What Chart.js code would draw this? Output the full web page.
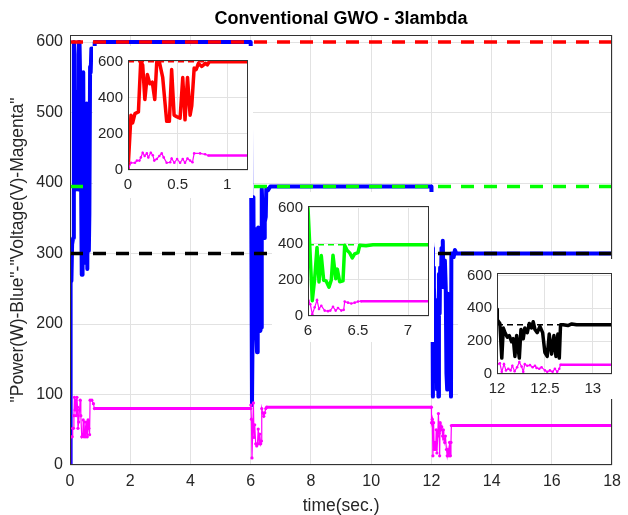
<!DOCTYPE html>
<html>
<head>
<meta charset="utf-8">
<script src="https://cdn.jsdelivr.net/npm/chart.js@4.4.0/dist/chart.umd.min.js"></script>
<style>
  body { margin: 0; background: #fff; }
  #wrap { position: relative; width: 628px; height: 515px; }
  #wrap canvas { position: absolute; }
  .inset { background: #fff; }
</style>
</head>
<body>
<div id="wrap">
  <canvas id="main" width="628" height="515" style="left:0;top:0"></canvas>
  <canvas id="in1" class="inset" width="160" height="152" style="left:93px;top:46px"></canvas>
  <canvas id="in2" class="inset" width="162" height="150" style="left:272px;top:192px"></canvas>
  <canvas id="in3" class="inset" width="160" height="140" style="left:458px;top:259px"></canvas>
</div>
<script>
// power (W) samples, three load steps
const powerTime = [
  0, 0.01, 0.03, 0.047, 0.07, 0.105, 0.128, 0.148, 0.17, 0.195,
  0.22, 0.245, 0.27, 0.29, 0.316, 0.35, 0.39, 0.417, 0.44, 0.465,
  0.49, 0.525, 0.552, 0.575, 0.6, 0.626, 0.643, 0.667, 0.687, 0.71,
  0.744, 0.78, 0.8, 0.82,
  6.0, 6.043, 6.067, 6.09, 6.11, 6.133, 6.157, 6.18, 6.21, 6.233,
  6.25, 6.277, 6.293, 6.317, 6.35, 6.367, 6.39, 6.417, 6.443, 6.467,
  6.5, 6.517, 6.58, 6.65, 12.0,
  12.003, 12.03, 12.05, 12.066, 12.083, 12.108, 12.128, 12.153, 12.17, 12.187,
  12.205, 12.233, 12.25, 12.274, 12.29, 12.316, 12.337, 12.36, 12.378, 12.396,
  12.42, 12.448, 12.476, 12.5, 12.524, 12.545, 12.57, 12.594, 12.615, 12.635,
  12.65, 12.663, 12.69, 12.74, 12.78, 12.83, 18
];
const powerVal = [
  0, 0, 304, 261, 313, 322, 600, 583, 391, 530,
  478, 487, 391, 600, 600, 513, 270, 270, 557, 304,
  296, 287, 513, 278, 513, 304, 357, 565, 557, 591,
  574, 591, 583, 600,
  600, 85, 207, 380, 189, 335, 198, 195, 160, 200,
  337, 207, 260, 190, 195, 392, 365, 350, 322, 345,
  352, 392, 390, 395, 395,
  331, 308, 97, 280, 252, 224, 234, 196, 215, 107,
  234, 97, 271, 215, 280, 252, 308, 280, 318, 271,
  252, 290, 252, 130, 107, 243, 121, 234, 107, 243,
  97, 300, 300, 295, 305, 300, 300
];
// voltage (V) samples
const voltTime = [
  0, 0.01, 0.03, 0.07, 0.09, 0.115, 0.13, 0.148, 0.168, 0.19,
  0.205, 0.23, 0.25, 0.265, 0.29, 0.316, 0.34, 0.36, 0.39, 0.425,
  0.44, 0.467, 0.495, 0.525, 0.552, 0.575, 0.6, 0.626, 0.65, 0.667,
  0.727, 0.778, 0.81, 6.0,
  6.005, 6.023, 6.043, 6.067, 6.09, 6.11, 6.133, 6.167, 6.2, 6.223,
  6.25, 6.277, 6.3, 6.333, 6.357, 6.367, 6.4, 6.433, 6.467, 6.5,
  6.53, 12.0,
  12.003, 12.03, 12.05, 12.073, 12.094, 12.118, 12.142, 12.16, 12.184, 12.21,
  12.233, 12.257, 12.274, 12.29, 12.316, 12.344, 12.372, 12.396, 12.413, 12.441,
  12.465, 12.5, 12.524, 12.552, 12.58, 12.604, 12.628, 12.65, 12.663, 18
];
const voltVal = [
  0, 0, 40, 40, 52, 52, 70, 96, 78, 92,
  70, 96, 82, 52, 61, 78, 92, 70, 40, 43,
  64, 40, 61, 40, 61, 40, 64, 52, 43, 92,
  92, 87, 80, 80,
  85, 65, 10, 48, 88, 39, 57, 30, 27, 30,
  51, 30, 44, 30, 34, 80, 74, 69, 74, 80,
  82, 82,
  60, 65, 13, 60, 22, 32, 22, 50, 17, 41,
  73, 45, 13, 60, 50, 54, 41, 50, 37, 32,
  41, 22, 13, 22, 13, 32, 13, 32, 56, 56
];
// reference power levels per step
const refLevels = [600, 395, 300];
const refColors = ['#ff0000', '#00ff00', '#000000'];
// tick values
const mainXTicks = [0, 2, 4, 6, 8, 10, 12, 14, 16, 18];
const mainYTicks = [0, 100, 200, 300, 400, 500, 600];
const insetYTicks = [0, 200, 400, 600];
const insetXTicks = [[0, 0.5, 1], [6, 6.5, 7], [12, 12.5, 13]];
// inset time windows
const insetStart = [0, 6, 12];
const insetEnd = [1.21, 7.21, 13.2];

const FONT = "'Liberation Sans', Arial, sans-serif";
const TICK = '#262626';
const GRID = '#e2e2e2';

const pts = (ts, vs) => ts.map((t, i) => ({ x: t, y: vs[i] }));
const setTicks = vals => s => { s.ticks = vals.map(v => ({ value: v })); };
const plain = v => String(v);

const frame = {
  id: 'frame',
  afterDatasetsDraw(chart) {
    const { ctx, chartArea: a } = chart;
    ctx.save();
    ctx.strokeStyle = '#333';
    ctx.lineWidth = 1;
    ctx.strokeRect(Math.round(a.left) + 0.5, Math.round(a.top) + 0.5,
      Math.round(a.right - a.left) - 1, Math.round(a.bottom - a.top) - 1);
    ctx.restore();
  }
};

Chart.defaults.font.family = FONT;
Chart.defaults.color = TICK;

// main chart
const mainSets = [{
  data: pts(powerTime, powerVal),
  borderColor: '#0000ff', borderWidth: 4, pointRadius: 0,
  borderJoinStyle: 'round', order: 3
}, {
  data: pts(voltTime, voltVal),
  borderColor: '#ff00ff', backgroundColor: '#ff00ff',
  borderWidth: 1.2, pointRadius: 1.6, pointBorderWidth: 0,
  segment: { borderWidth: c => (c.p1.parsed.x - c.p0.parsed.x > 0.1 ? 3 : 1.2) },
  order: 2
}];
refLevels.forEach((lv, i) => {
  mainSets.push({
    data: [{ x: 0, y: lv }, { x: 18, y: lv }],
    borderColor: refColors[i], borderWidth: 3.5, borderDash: [13, 10],
    pointRadius: 0, order: 0
  });
});

new Chart(document.getElementById('main'), {
  type: 'line',
  data: { datasets: mainSets },
  options: {
    responsive: false, animation: false, devicePixelRatio: 1,
    layout: { padding: { right: 11 } },
    plugins: { legend: { display: false }, tooltip: { enabled: false } },
    scales: {
      x: {
        type: 'linear', min: 0, max: 18,
        afterBuildTicks: setTicks(mainXTicks),
        ticks: { padding: 7, font: { size: 16 }, color: TICK, callback: plain },
        grid: { color: GRID, drawTicks: false },
        border: { display: false },
        title: { display: true, text: 'time(sec.)', font: { size: 17.5, lineHeight: 1 }, color: TICK, padding: 0 },
        afterFit: s => { s.height = 50; }
      },
      top: {
        type: 'linear', position: 'top', min: 0, max: 18,
        ticks: { display: false }, grid: { display: false }, border: { display: false },
        title: { display: true, text: 'Conventional GWO - 3lambda', font: { size: 18, weight: 'bold' }, color: '#000', padding: { top: 8, bottom: 0 } },
        afterFit: s => { s.height = 35; }
      },
      y: {
        min: 0, max: 610,
        afterBuildTicks: setTicks(mainYTicks),
        ticks: { padding: 7, font: { size: 16 }, color: TICK, callback: plain },
        grid: { color: GRID, drawTicks: false },
        border: { display: false },
        title: { display: true, text: '"Power(W)-Blue"-"Voltage(V)-Magenta"', font: { size: 17.5, lineHeight: 1.2 }, color: TICK, padding: { top: 8, bottom: 0 } },
        afterFit: s => { s.width = 70; }
      }
    }
  },
  plugins: [frame]
});

// insets: same series, zoomed on each step
const insetBox = [
  { id: 'in1', left: 35, right: 5, top: 7, bottom: 28, ymax: 610 },
  { id: 'in2', left: 36, right: 5, top: 8, bottom: 26, ymax: 610 },
  { id: 'in3', left: 39, right: 6, top: 5, bottom: 25, ymax: 615 }
];

insetBox.forEach((b, i) => {
  new Chart(document.getElementById(b.id), {
    type: 'line',
    data: {
      datasets: [{
        data: [{ x: insetStart[i], y: refLevels[i] }, { x: insetEnd[i], y: refLevels[i] }],
        borderColor: refColors[i], borderWidth: 1.6, borderDash: [6, 4], pointRadius: 0, order: 2
      }, {
        data: pts(powerTime, powerVal),
        borderColor: refColors[i], borderWidth: 3.5, pointRadius: 0,
        borderJoinStyle: 'round', order: 1
      }, {
        data: pts(voltTime, voltVal),
        borderColor: '#ff00ff', backgroundColor: '#ff00ff',
        borderWidth: 1.2, pointRadius: 1.3, pointBorderWidth: 0,
        segment: { borderWidth: c => (c.p1.parsed.x - c.p0.parsed.x > 0.1 ? 2.5 : 1.2) },
        order: 0
      }]
    },
    options: {
      responsive: false, animation: false, devicePixelRatio: 1,
      layout: { padding: { top: b.top, right: b.right } },
      plugins: { legend: { display: false }, tooltip: { enabled: false } },
      scales: {
        x: {
          type: 'linear', min: insetStart[i], max: insetEnd[i],
          afterBuildTicks: setTicks(insetXTicks[i]),
          ticks: { padding: 6, font: { size: 15 }, color: TICK, callback: plain },
          grid: { color: GRID, drawTicks: false },
          border: { display: false },
          afterFit: s => { s.height = b.bottom; }
        },
        y: {
          min: 0, max: b.ymax,
          afterBuildTicks: setTicks(insetYTicks),
          ticks: { padding: 5, font: { size: 15 }, color: TICK, callback: plain },
          grid: { color: GRID, drawTicks: false },
          border: { display: false },
          afterFit: s => { s.width = b.left; }
        }
      }
    },
    plugins: [frame]
  });
});
</script>
</body>
</html>
